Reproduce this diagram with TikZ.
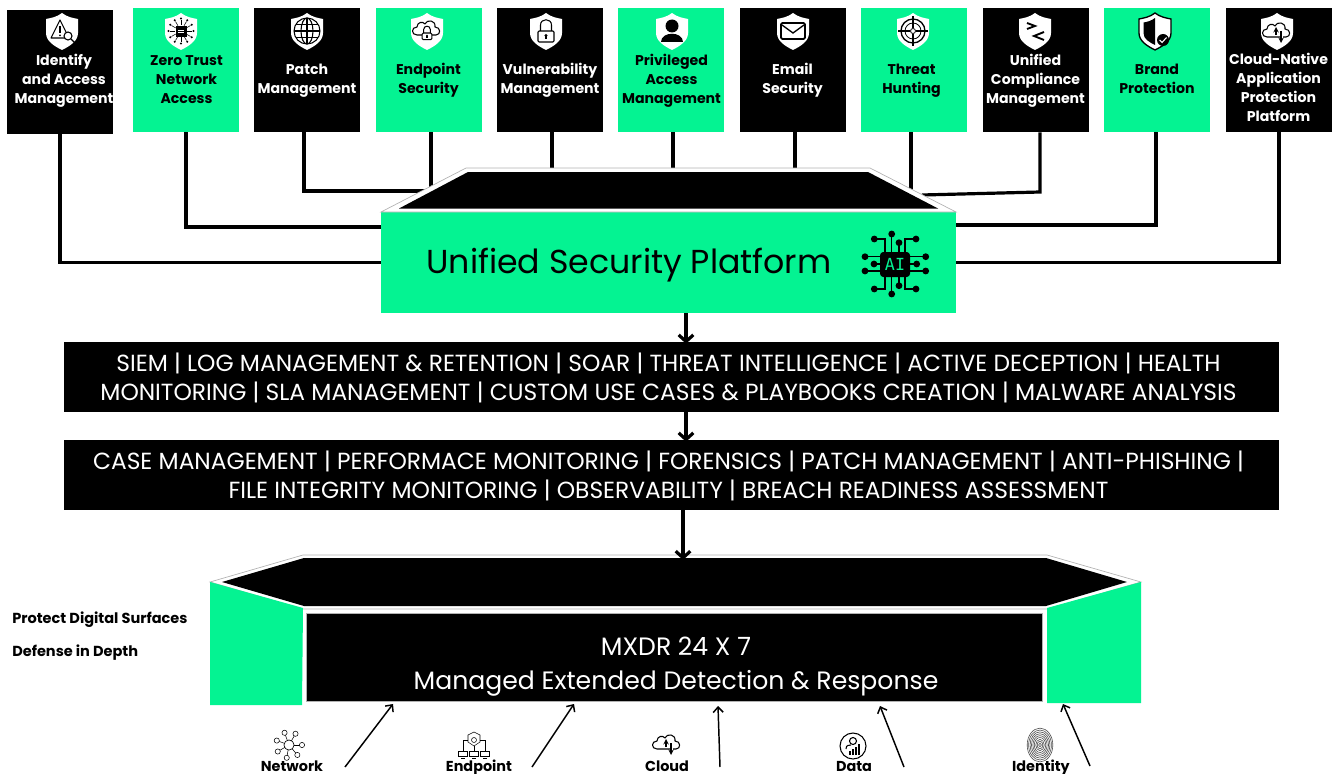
\documentclass[tikz,border=0pt]{standalone}
\usepackage{fontspec}
\setmainfont{Poppins}
\setmonofont{DejaVu Sans Mono}
\usetikzlibrary{backgrounds,arrows.meta}
\definecolor{mxgreen}{HTML}{04F392}
\newcommand{\shieldpath}{(0,-18) .. controls (5,-14) and (11,-13) .. (16,-12) -- (16,2) .. controls (16,10) and (8,15) .. (0,19) .. controls (-8,15) and (-16,10) .. (-16,2) -- (-16,-12) .. controls (-11,-13) and (-5,-14) .. (0,-18) -- cycle}
\newcommand{\cloudpath}{(-10,6) .. controls (-16,6) and (-16,-2) .. (-10,-2) .. controls (-10,-7) and (-4,-8) .. (-2,-5) .. controls (0,-10) and (9,-9) .. (8,-2) .. controls (14,-2) and (14,6) .. (9,6) -- cycle}
\tikzset{
  topbox/.style={inner sep=0pt,minimum width=79.5pt,minimum height=93pt},
  toplabel/.style={inner sep=0pt,align=center,text height=8pt,text depth=3pt,font=\fontsize{10.6}{14.25}\selectfont\bfseries},
  bandbox/.style={fill=black,inner sep=0pt,minimum width=911.25pt,minimum height=52.5pt},
  bandlabel/.style={text=white,inner sep=0pt,align=center,font=\fontsize{17.5}{21.75}\selectfont},
  sidelabel/.style={inner sep=0pt,anchor=base west,font=\fontsize{10.9}{12}\selectfont\bfseries},
  inputlabel/.style={inner sep=0pt,anchor=base,font=\fontsize{10.8}{13}\selectfont\bfseries},
  link/.style={line width=2.4pt},
  flowhead/.style={-{Straight Barb[length=5pt,width=11pt]}},
  flow/.style={line width=2.4pt,flowhead,shorten >=-1.5pt},
  inputarrow/.style={line width=1.1pt,-{Straight Barb[length=4pt,width=7.5pt]}},
  rim/.style={fill=white,draw=black!30,line width=.5pt},
  icon/.style={line width=.8pt},
  thinicon/.style={line width=.4pt},
  shield/.pic={\fill [white] \shieldpath;},
  alerticon/.pic={
    \draw [icon,line join=round] (-2,-11) -- (-11,7) -- (7,7) -- cycle;
    \draw [icon] (-2,-5) -- (-2,2);
    \fill (-2,4.5) circle (1);
    \draw [icon,fill=white] (6,5) circle (4);
    \draw [icon] (9,8) -- (13,12);
  },
  raysicon/.pic={
    \foreach \a in {0,30,...,330} {
      \draw [thinicon] (\a:6) -- (\a:11);
      \fill (\a:12.5) circle (1.1);
    }
    \draw [thinicon,fill=black] (-5,-5) rectangle (5,5);
    \draw [white,thinicon] (-3,-1) -- (3,-1) (-3,1) -- (3,1);
  },
  globeicon/.pic={
    \draw [icon] (0,0) circle (13);
    \draw [icon] (0,0) ellipse (6 and 13);
    \draw [icon] (-13,0) -- (13,0) (0,-13) -- (0,13);
    \draw [icon] (-11,-6.5) -- (11,-6.5) (-11,6.5) -- (11,6.5);
  },
  cloudicon/.pic={\draw [icon,line join=round] \cloudpath;},
  lockicon/.pic={
    \draw [icon,fill=white,rounded corners=.8pt] (-8,0) rectangle (8,11);
    \draw [icon] (-5.5,0) -- (-5.5,-6) .. controls (-5.5,-13) and (5.5,-13) .. (5.5,-6) -- (5.5,0);
    \fill (0,4.5) circle (1.6);
    \draw [icon] (0,4.5) -- (0,8);
  },
  personicon/.pic={
    \fill (0,-5) circle (6.5);
    \fill (-11,11) .. controls (-11,0) and (11,0) .. (11,11) -- cycle;
  },
  envelopeicon/.pic={
    \draw [line width=1.3pt,rounded corners=1pt] (-12,-8) rectangle (12,8);
    \draw [line width=1pt] (-11,-6) -- (0,2) -- (11,-6);
  },
  targeticon/.pic={
    \draw [line width=1pt] (0,0) circle (12);
    \draw [line width=.6pt] (0,0) circle (8);
    \draw [line width=.6pt] (0,0) circle (2.5);
    \draw [icon] (-15,0) -- (-3,0) (3,0) -- (15,0) (0,-15) -- (0,-3) (0,3) -- (0,15);
  },
  anglesicon/.pic={
    \draw [line width=1.4pt] (-8,-8) -- (0,-5) -- (-8,-2);
    \draw [line width=1.4pt] (9,1) -- (-1,5) -- (9,9);
  },
  brandicon/.pic={
    \draw [black,line width=1pt,fill=white] \shieldpath;
    \fill (0,-13) .. controls (-4,-10) and (-8,-9) .. (-11.5,-8.5) -- (-11.5,2) .. controls (-11.5,8) and (-6,11) .. (0,14) -- cycle;
    \fill (8,9) circle (6);
    \draw [white,icon] (4.5,9) -- (7,11.5) -- (11.5,6.5);
  },
  updownicon/.pic={
    \draw [icon,line join=round] \cloudpath;
    \draw [icon,->,>=stealth] (-1,4) -- (-1,-4);
    \draw [thinicon,fill=white,white] (3,1) rectangle (5,7);
    \draw [icon,->,>=stealth] (4,0) -- (4,12);
  },
  networkicon/.pic={
    \draw [thinicon] (0,0) circle (5);
    \foreach \a/\r in {0/13,50/13,100/13,150/13,200/13,250/13,300/13} {
      \draw [thinicon] (0,0) -- (\a:\r);
      \draw [thinicon,fill=white] (\a:\r) circle (2.6);
    }
    \draw [thinicon,fill=white] (0,0) circle (5);
  },
  endpointicon/.pic={
    \draw [thinicon] (0,-13) -- (6,-10) -- (6,-3) -- (0,1) -- (-6,-3) -- (-6,-10) -- cycle;
    \draw [thinicon] (0,-5) circle (2.5);
    \draw [thinicon] (0,1) -- (0,6) (-6,-5) -- (-11,-5) -- (-11,6) (6,-5) -- (11,-5) -- (11,6);
    \foreach \x in {-11,0,11} {
      \draw [thinicon,fill=white] (\x-4.5,6) rectangle (\x+4.5,11);
      \draw [thinicon] (\x-2,13) -- (\x+2,13);
    }
  },
  dataicon/.pic={
    \draw [icon] (0,0) circle (13);
    \draw [icon] (0,-5) circle (3.5);
    \draw [icon] (-7,3) .. controls (-7,-1) and (-4,-1) .. (-2,-1);
    \foreach \x/\h in {-3/4,0/6,3/8,6/11} \draw [line width=1.3pt] (\x,9) -- (\x,9-\h);
  },
  fingerprinticon/.pic={
    \foreach \r in {1.5,3,...,13.5} \draw [black!70,line width=.45pt] (0,0) ellipse (\r*.95 and \r*1.25);
  }
}
\begin{document}
\begin{tikzpicture}[x=.75pt,y=-.75pt]
\useasboundingbox (0,0) rectangle (1332,774);

%Top row
\foreach \name/\xc/\yc/\bg/\fg/\tx/\ty/\ttext in {
  iam/60/72/black/white/64/100.5/{Identify\\and Access\\Management},
  ztna/186/70/mxgreen/black/186.5/100.5/{Zero Trust\\Network\\Access},
  patch/307/70/black/white/307/90/{Patch\\Management},
  endpoint/429/70/mxgreen/black/428.5/90/{Endpoint\\Security},
  vuln/550/70/black/white/550/90/{Vulnerability\\Management},
  priv/671/70/mxgreen/black/671.5/100.5/{Privileged\\Access\\Management},
  email/793/70/black/white/792.5/90/{Email\\Security},
  threat/914/70/mxgreen/black/911.5/90/{Threat\\Hunting},
  compliance/1036/70/black/white/1035.5/100.5/{Unified\\Compliance\\Management},
  brand/1157/70/mxgreen/black/1157/90/{Brand\\Protection},
  cnapp/1279/70/black/white/1278.5/118/{Cloud-Native\\Application\\Protection\\Platform}}
{
  \node [topbox,fill=\bg] (\name) at (\xc,\yc) {};
  \node [toplabel,text=\fg] (\name label) at (\tx,\ty) {\ttext};
}

%Shields and their icons
\pic at (62,31) {shield};
\pic at (62,31) {alerticon};
\pic at (181,31) {shield};
\pic at (181,31) {raysicon};
\pic at (307,31) {shield};
\pic at (307,31) {globeicon};
\pic at (427,31) {shield};
\pic at (427,29) {cloudicon};
\pic [scale=.6] at (427,33) {lockicon};
\pic at (546,31) {shield};
\pic at (546,31) {lockicon};
\pic at (672,31) {shield};
\pic at (672,31) {personicon};
\pic at (793,31) {shield};
\pic at (793,31) {envelopeicon};
\pic at (913,31) {shield};
\pic at (913,31) {targeticon};
\pic at (1035,31) {shield};
\pic at (1035,31) {anglesicon};
\pic at (1155,31) {brandicon};
\pic at (1277,31) {shield};
\pic at (1277,31) {updownicon};

%Platform
\node [fill=mxgreen,inner sep=0pt,minimum width=431.25pt,minimum height=75.75pt] (platform) at (668.5,262.5) {};
\node [inner sep=0pt,font=\fontsize{24.9}{30}\selectfont] (platform label) at (629,265.5) {Unified Security Platform};
\coordinate (platleft) at (440,191);
\coordinate (platright) at (922,195);
\coordinate (compliancebend) at (1040,192);
\coordinate (platlow) at (381,227);
\coordinate (plathigh) at (956,225);

\draw [rim] (381,212) -- (466,168) -- (870,168) -- (956,212) -- cycle;
\fill [black] (399,208.5) -- (468,172) -- (868,172) -- (938,208.5) -- cycle;

%AI chip
\foreach \xp/\yp/\xq/\yq in {891.7/234/891.7/252, 899/242.7/899/252, 874.3/239/885/252, 916/239/905/252,
  865/256.7/880/256.7, 874/264/880/264, 865/271/880/271, 925.7/256.7/910/256.7, 916.7/264/910/264, 925.7/271/910/271,
  874.3/289/885/277, 916/289/905/277, 891.7/294/891.7/277, 899/285.7/899/277}
{
  \fill (\xp,\yp) circle (3.4);
  \draw [line width=.8pt] (\xp,\yp) -| (\xq,\yq);
}
\node [fill=black,text=mxgreen,rounded corners=2.5pt,inner sep=0pt,minimum width=22.5pt,minimum height=18.75pt,font=\ttfamily\fontsize{12.5}{14}\selectfont] (aichip) at (895,264.5) {AI};

%Bands
\node [bandbox] (bandone) at (671.5,377) {};
\node [bandlabel] (bandone label) at (668.5,377.5) {SIEM | LOG MANAGEMENT \& RETENTION | SOAR | THREAT INTELLIGENCE | ACTIVE DECEPTION | HEALTH\\MONITORING | SLA MANAGEMENT | CUSTOM USE CASES \& PLAYBOOKS CREATION | MALWARE ANALYSIS};
\node [bandbox] (bandtwo) at (671.5,475) {};
\node [bandlabel] (bandtwo label) at (668.5,475.5) {CASE MANAGEMENT | PERFORMACE MONITORING | FORENSICS | PATCH MANAGEMENT | ANTI-PHISHING |\\FILE INTEGRITY MONITORING | OBSERVABILITY | BREACH READINESS ASSESSMENT};

%Lower block
\draw [rim] (210,582) -- (303,555) -- (1047,555) -- (1141,582) -- (1047,609) -- (303,609) -- cycle;
\fill [black] (222,582) -- (304,558) -- (1046,558) -- (1127,582) -- (1046,606) -- (304,606) -- cycle;
\fill [mxgreen] (210,582) -- (303,608) -- (302,705) -- (210,705) -- cycle;
\fill [mxgreen] (1047,608) -- (1141,582) -- (1141,703) -- (1047,703) -- cycle;
\node [fill=black,draw=black!30,line width=.5pt,inner sep=0pt,minimum width=552pt,minimum height=66pt] (mxdr) at (674,657) {};
\node [inner sep=0pt,text=white,align=center,font=\fontsize{18.85}{25.5}\selectfont] (mxdr label) at (676,667) {MXDR 24 X 7\\Managed Extended Detection \& Response};
\coordinate (mxdrtop) at (683,560);

\node [sidelabel] (surfaces) at (12,623) {Protect Digital Surfaces};
\node [sidelabel] (depth) at (12,656) {Defense in Depth};

%Inputs
\foreach \name/\xl/\xa/\ya/\xb/\yb/\ttext in {
  network/292/345/767/393/704/Network,
  endpointin/479/532/767/574/704/Endpoint,
  cloud/667/720/767/718/706/Cloud,
  data/854/904/767/880/706/Data,
  identity/1041/1090/766/1063/704/Identity}
{
  \node [inputlabel] (\name) at (\xl,771) {\ttext};
  \coordinate (\name from) at (\xa,\ya);
  \coordinate (\name to) at (\xb,\yb);
  \draw [inputarrow] (\name from) -- (\name to);
}
\pic at (289,745) {networkicon};
\pic at (474,745) {endpointicon};
\pic at (667,743) {updownicon};
\pic at (853,746) {dataicon};
\pic at (1040,745) {fingerprinticon};

%Flow lines
\begin{scope}[on background layer]
\draw [link] (iam.south) |- (platform.west);
\draw [link] (ztna.south) |- (platlow);
\draw [link] (patch.south -| 304,0) |- (platleft);
\draw [link] (endpoint.south -| 431,0) -- (platform.north -| 431,0);
\draw [link] (vuln.south -| 552,0) -- (platform.north -| 552,0);
\draw [link] (priv.south -| 673,0) -- (platform.north -| 673,0);
\draw [link] (email.south -| 795,0) -- (platform.north -| 795,0);
\draw [link] (threat.south -| 911,0) -- (platform.north -| 911,0);
\draw [link] (compliance.south -| 1040,0) -- (compliancebend) -- (platright);
\draw [link] (brand.south -| 1156,0) |- (plathigh);
\draw [link] (cnapp.south) |- (platform.east);
\draw [flow] (platform.south -| 686,0) -- (bandone.north -| 686,0);
\draw [flow] (bandone.south -| 686,0) -- (bandtwo.north -| 686,0);
\end{scope}
\draw [link,flowhead] (bandtwo.south -| 683,0) -- (mxdrtop);
\end{tikzpicture}
\end{document}
